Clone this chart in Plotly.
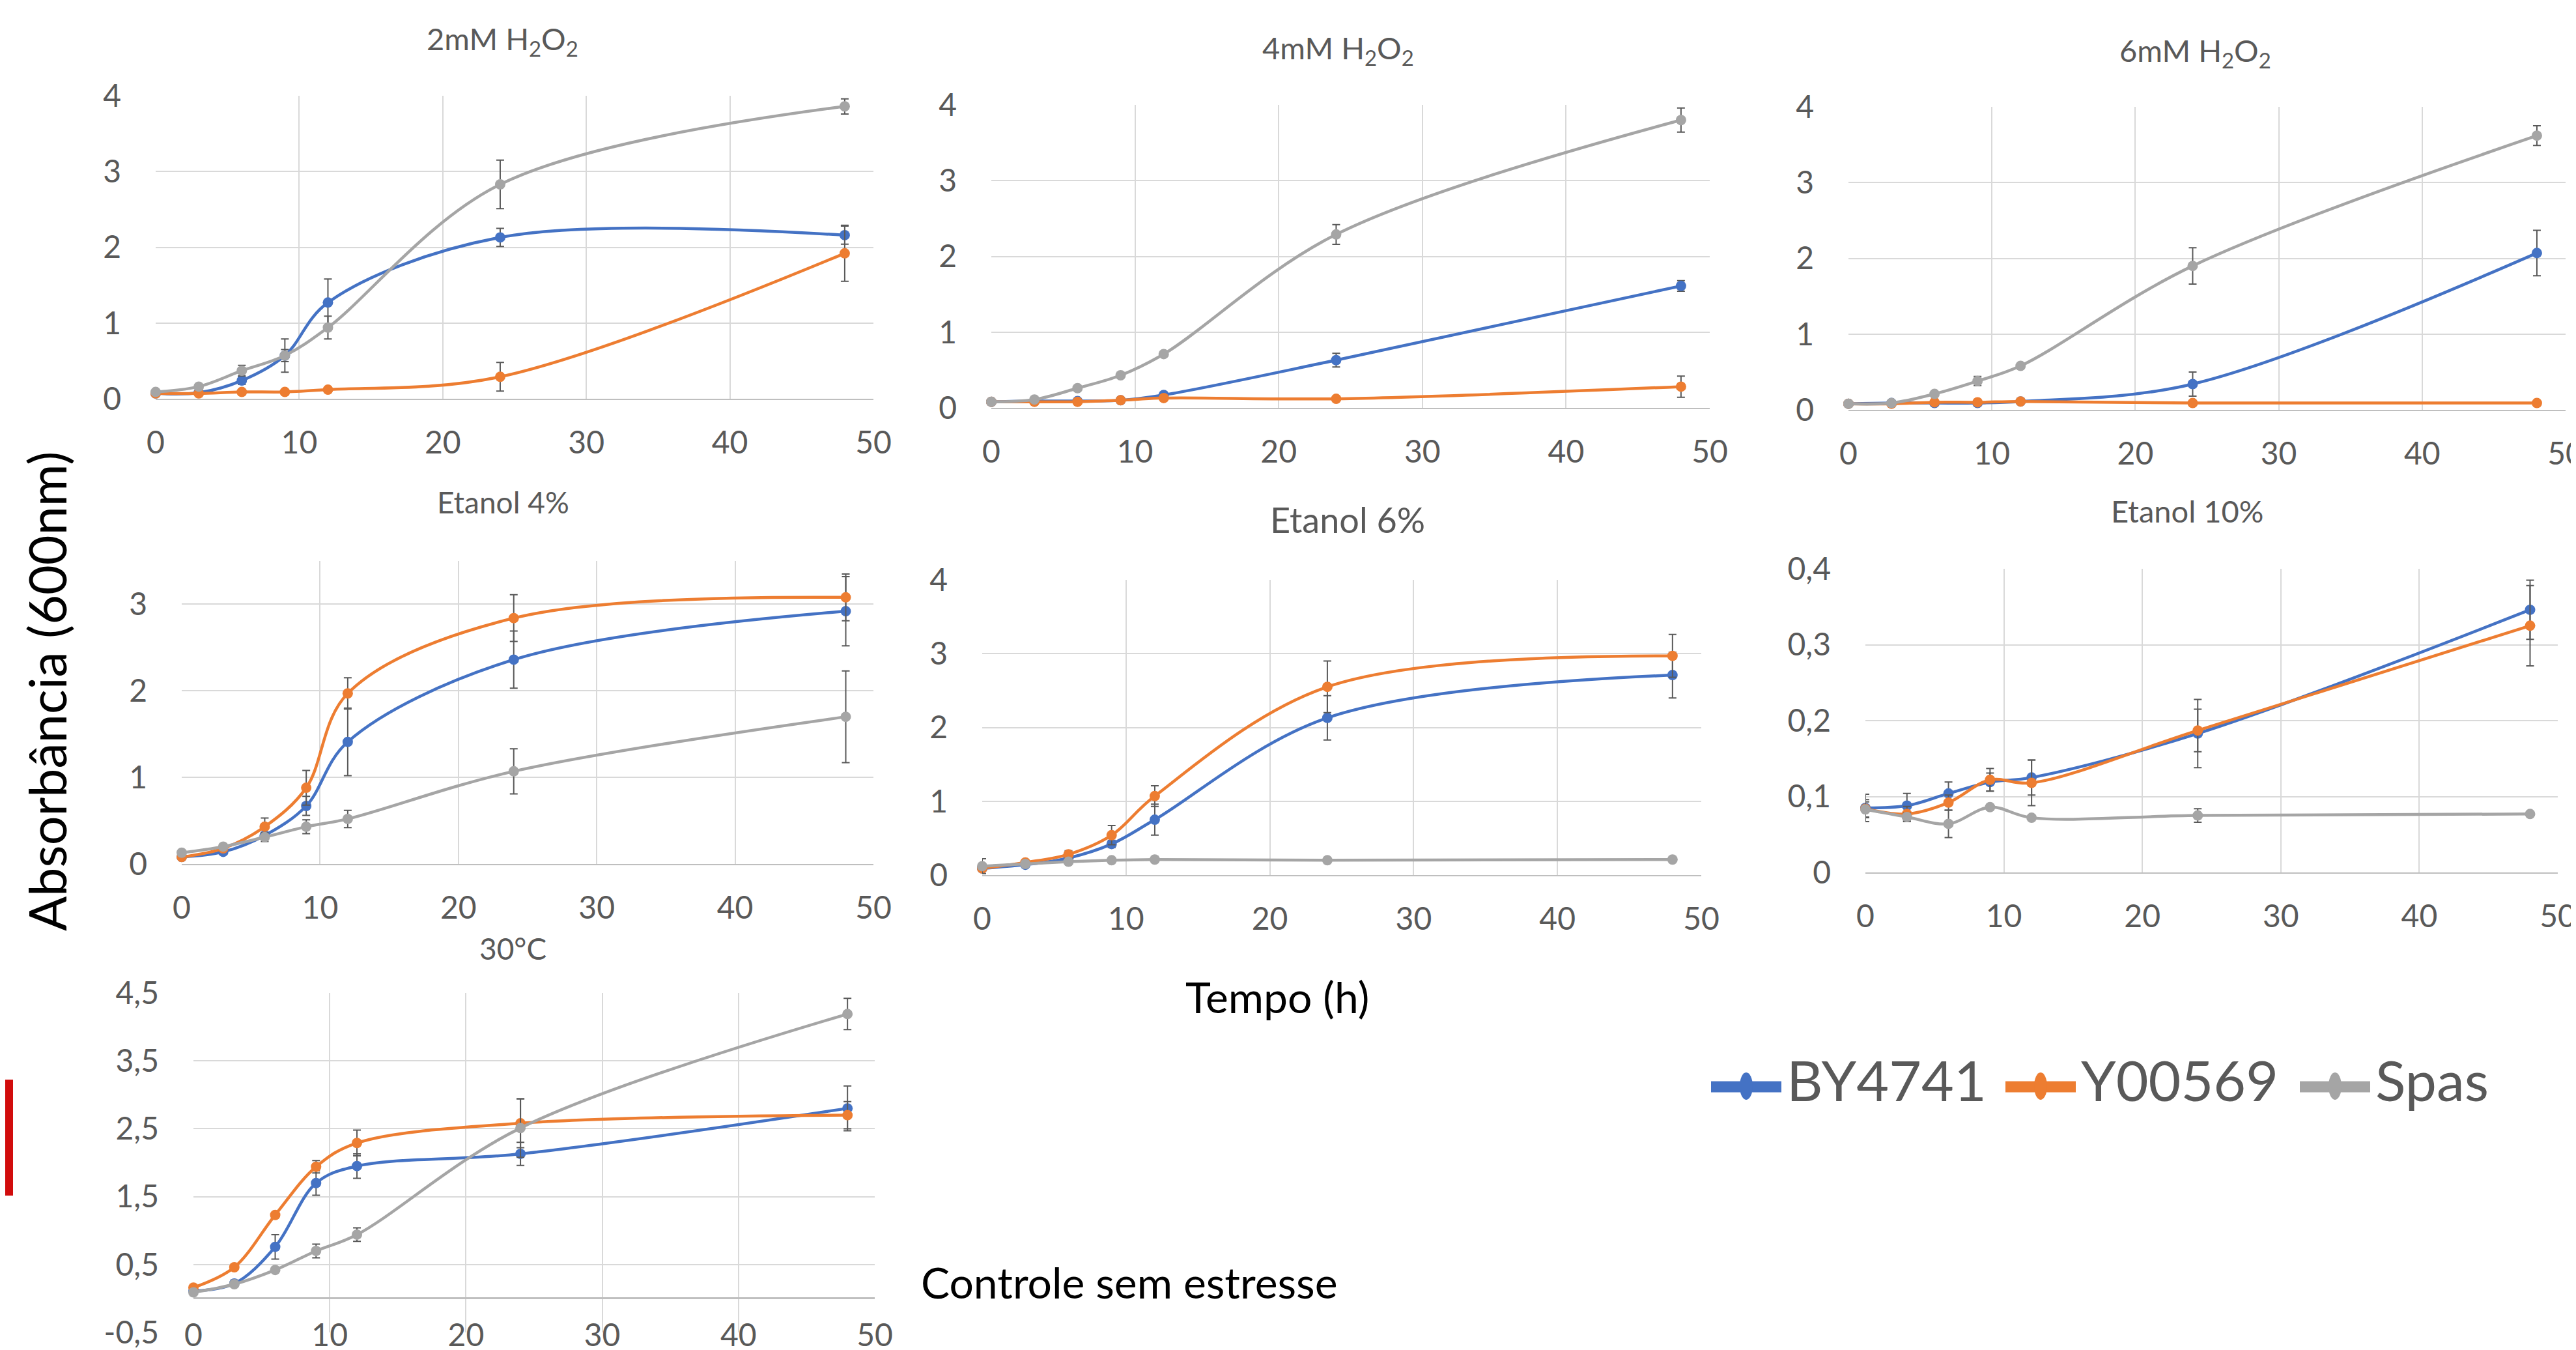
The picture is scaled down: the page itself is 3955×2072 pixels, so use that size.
import plotly.graph_objects as go

# ---------------- data ----------------
TIME_H = [0, 3, 6, 9, 12, 24, 48]
SERIES_NAMES = ["BY4741", "Y00569", "Spas"]
SERIES_COLORS = ["#4472C4", "#ED7D31", "#A5A5A5"]

PANEL_TITLES = ["2mM H<sub>2</sub>O<sub>2</sub>", "4mM H<sub>2</sub>O<sub>2</sub>", "6mM H<sub>2</sub>O<sub>2</sub>",
                "Etanol 4%", "Etanol 6%", "Etanol 10%", "30°C"]

# 2mM H2O2
h2o2_2_by = [0.07, 0.08, 0.24, 0.57, 1.27, 2.13, 2.16]
h2o2_2_by_err = [0.02, 0.02, 0.05, 0.08, 0.31, 0.12, 0.12]
h2o2_2_y0 = [0.07, 0.07, 0.09, 0.09, 0.12, 0.29, 1.92]
h2o2_2_y0_err = [0.01, 0.01, 0.01, 0.01, 0.02, 0.19, 0.37]
h2o2_2_sp = [0.09, 0.16, 0.37, 0.57, 0.94, 2.83, 3.86]
h2o2_2_sp_err = [0.02, 0.03, 0.07, 0.22, 0.15, 0.32, 0.10]

# 4mM H2O2
h2o2_4_by = [0.08, 0.09, 0.09, 0.10, 0.17, 0.63, 1.61]
h2o2_4_by_err = [0.01, 0.01, 0.01, 0.01, 0.02, 0.09, 0.07]
h2o2_4_y0 = [0.08, 0.08, 0.08, 0.10, 0.13, 0.12, 0.28]
h2o2_4_y0_err = [0.01, 0.01, 0.01, 0.01, 0.02, 0.02, 0.14]
h2o2_4_sp = [0.08, 0.11, 0.26, 0.43, 0.71, 2.29, 3.80]
h2o2_4_sp_err = [0.01, 0.01, 0.02, 0.02, 0.03, 0.13, 0.16]

# 6mM H2O2
h2o2_6_by = [0.08, 0.09, 0.09, 0.09, 0.11, 0.34, 2.07]
h2o2_6_by_err = [0.01, 0.01, 0.01, 0.01, 0.01, 0.16, 0.30]
h2o2_6_y0 = [0.08, 0.08, 0.10, 0.10, 0.11, 0.09, 0.09]
h2o2_6_y0_err = [0.01, 0.01, 0.01, 0.01, 0.01, 0.01, 0.01]
h2o2_6_sp = [0.08, 0.09, 0.21, 0.38, 0.58, 1.90, 3.62]
h2o2_6_sp_err = [0.01, 0.01, 0.02, 0.06, 0.03, 0.24, 0.13]

# Etanol 4%
et4_by = [0.08, 0.14, 0.33, 0.67, 1.41, 2.36, 2.92]
et4_by_err = [0.02, 0.02, 0.03, 0.11, 0.39, 0.33, 0.40]
et4_y0 = [0.08, 0.18, 0.43, 0.88, 1.97, 2.84, 3.08]
et4_y0_err = [0.02, 0.03, 0.10, 0.20, 0.18, 0.27, 0.27]
et4_sp = [0.13, 0.20, 0.31, 0.43, 0.52, 1.07, 1.70]
et4_sp_err = [0.02, 0.03, 0.05, 0.08, 0.10, 0.26, 0.53]

# Etanol 6%
et6_by = [0.09, 0.14, 0.23, 0.42, 0.75, 2.13, 2.71]
et6_by_err = [0.02, 0.02, 0.03, 0.05, 0.21, 0.30, 0.31]
et6_y0 = [0.09, 0.17, 0.28, 0.54, 1.07, 2.55, 2.97]
et6_y0_err = [0.02, 0.03, 0.05, 0.13, 0.14, 0.35, 0.29]
et6_sp = [0.12, 0.15, 0.18, 0.20, 0.21, 0.20, 0.21]
et6_sp_err = [0.10, 0.02, 0.02, 0.03, 0.04, 0.02, 0.03]

# Etanol 10%
et10_by = [0.085, 0.088, 0.104, 0.119, 0.125, 0.183, 0.346]
et10_by_err = [0.018, 0.016, 0.015, 0.012, 0.023, 0.045, 0.039]
et10_y0 = [0.084, 0.077, 0.092, 0.122, 0.118, 0.187, 0.325]
et10_y0_err = [0.012, 0.010, 0.010, 0.015, 0.030, 0.028, 0.053]
et10_sp = [0.083, 0.073, 0.064, 0.086, 0.072, 0.075, 0.077]
et10_sp_err = [0.010, 0.005, 0.018, 0.003, 0.003, 0.009, 0.002]

# 30 °C (controle sem estresse)
c30_by = [0.11, 0.22, 0.76, 1.70, 1.95, 2.13, 2.80]
c30_by_err = [0.02, 0.05, 0.18, 0.18, 0.18, 0.17, 0.33]
c30_y0 = [0.16, 0.46, 1.23, 1.94, 2.29, 2.58, 2.70]
c30_y0_err = [0.02, 0.03, 0.03, 0.09, 0.19, 0.36, 0.20]
c30_sp = [0.09, 0.21, 0.42, 0.70, 0.94, 2.51, 4.19]
c30_sp_err = [0.02, 0.03, 0.03, 0.10, 0.10, 0.43, 0.23]

X_TICKS = [0, 10, 20, 30, 40, 50]
Y_TICKS_0_4 = [0, 1, 2, 3, 4]
Y_TICKS_0_3 = [0, 1, 2, 3]
Y_TICKS_ET10 = [0, 0.1, 0.2, 0.3, 0.4]
Y_TICKTEXT_ET10 = ["0", "0,1", "0,2", "0,3", "0,4"]
Y_TICKS_30C = [-0.5, 0.5, 1.5, 2.5, 3.5, 4.5]
Y_TICKTEXT_30C = ["-0,5", "0,5", "1,5", "2,5", "3,5", "4,5"]

PANEL_DATA = [
    ([h2o2_2_by, h2o2_2_y0, h2o2_2_sp], [h2o2_2_by_err, h2o2_2_y0_err, h2o2_2_sp_err]),
    ([h2o2_4_by, h2o2_4_y0, h2o2_4_sp], [h2o2_4_by_err, h2o2_4_y0_err, h2o2_4_sp_err]),
    ([h2o2_6_by, h2o2_6_y0, h2o2_6_sp], [h2o2_6_by_err, h2o2_6_y0_err, h2o2_6_sp_err]),
    ([et4_by, et4_y0, et4_sp], [et4_by_err, et4_y0_err, et4_sp_err]),
    ([et6_by, et6_y0, et6_sp], [et6_by_err, et6_y0_err, et6_sp_err]),
    ([et10_by, et10_y0, et10_sp], [et10_by_err, et10_y0_err, et10_sp_err]),
    ([c30_by, c30_y0, c30_sp], [c30_by_err, c30_y0_err, c30_sp_err]),
]

# ---------------- layout (pixels) ----------------
W, H = 3955, 2072
FONT = "Lato, 'Open Sans', sans-serif"
GRAY_TXT = "#595959"

# plot areas: (left, right, top, bottom) in pixels
PANEL_BOX = [
    (231, 1333, 139, 604),
    (1514, 2617, 153, 618),
    (2830, 3931, 156, 621),
    (271, 1333, 853, 1318),
    (1500, 2604, 882, 1335),
    (2856, 3919, 865, 1331),
    (289, 1335, 1516, 2037),
]
Y_RANGES = [[0, 4], [0, 4], [0, 4], [0, 3.5], [0, 4], [0, 0.4], [-0.5, 4.5]]
Y_TICKVALS = [Y_TICKS_0_4, Y_TICKS_0_4, Y_TICKS_0_4, Y_TICKS_0_3, Y_TICKS_0_4, Y_TICKS_ET10, Y_TICKS_30C]
Y_TICKTEXT = [None, None, None, None, None, Y_TICKTEXT_ET10, Y_TICKTEXT_30C]
# title centres (x, y) px and font size
TITLE_POS = [(763, 54, 47), (2047, 68, 47), (3362, 72, 47), (764, 763, 46),
             (2061, 790, 54), (3350, 776, 47), (779, 1447, 46)]


def px_x(v):
    return v / W


def px_y(v):
    return 1 - v / H


fig = go.Figure()

for p, (vals, errs) in enumerate(PANEL_DATA):
    ax = "" if p == 0 else str(p + 1)
    for s in range(3):
        fig.add_trace(go.Scatter(
            x=TIME_H, y=vals[s], name=SERIES_NAMES[s],
            mode="lines+markers",
            line=dict(color=SERIES_COLORS[s], width=4.5, shape="spline", smoothing=1.0),
            marker=dict(color=SERIES_COLORS[s], size=16),
            error_y=dict(type="data", array=errs[s], visible=True, color=GRAY_TXT,
                         thickness=2, width=6),
            xaxis="x" + ax, yaxis="y" + ax, showlegend=False, cliponaxis=False,
        ))

    l, r, t, b = PANEL_BOX[p]
    last = p == 6
    xa = dict(domain=[px_x(l), px_x(r)], anchor="y" + ax, range=[0, 50], tickvals=X_TICKS,
              showgrid=True, gridcolor="#D9D9D9", gridwidth=2, zeroline=False,
              showline=not last, linecolor="#BFBFBF", linewidth=2, automargin=False,
              ticks="", ticklabelstandoff=(-28 if last else 24), ticklabeloverflow="allow",
              tickfont=dict(family=FONT, size=48, color=GRAY_TXT))
    ya = dict(domain=[px_y(b), px_y(t)], anchor="x" + ax, range=Y_RANGES[p],
              tickvals=Y_TICKVALS[p], showgrid=True, gridcolor="#D9D9D9", gridwidth=2,
              zeroline=last, zerolinecolor="#BFBFBF", zerolinewidth=3, automargin=False,
              showline=False, ticks="", ticklabelstandoff=52, ticklabeloverflow="allow",
              tickfont=dict(family=FONT, size=48, color=GRAY_TXT))
    if Y_TICKTEXT[p] is not None:
        ya["ticktext"] = Y_TICKTEXT[p]
    fig.update_layout(**{"xaxis" + ax: xa, "yaxis" + ax: ya})

annotations = []
for p, (cx, cy, fs) in enumerate(TITLE_POS):
    annotations.append(dict(text=PANEL_TITLES[p], x=px_x(cx), y=px_y(cy), xref="paper", yref="paper",
                            xanchor="center", yanchor="middle", showarrow=False,
                            font=dict(family=FONT, size=fs, color=GRAY_TXT)))

annotations.append(dict(text="Absorbância (600nm)", x=px_x(63), y=px_y(1053), xref="paper", yref="paper",
                        textangle=-90, xanchor="center", yanchor="middle", showarrow=False,
                        font=dict(family=FONT, size=79, color="black")))
annotations.append(dict(text="Tempo (h)", x=px_x(1953), y=px_y(1521), xref="paper", yref="paper",
                        xanchor="center", yanchor="middle", showarrow=False,
                        font=dict(family=FONT, size=66, color="black")))
annotations.append(dict(text="Controle sem estresse", x=px_x(1726), y=px_y(1959), xref="paper", yref="paper",
                        xanchor="center", yanchor="middle", showarrow=False,
                        font=dict(family=FONT, size=66, color="black")))

shapes = []
# manual legend
LEG_X0, LEG_STEP, LEG_Y = 2619, 452, 1660
for s in range(3):
    x0 = LEG_X0 + s * LEG_STEP
    shapes.append(dict(type="line", xref="paper", yref="paper", x0=px_x(x0), x1=px_x(x0 + 108),
                       y0=px_y(LEG_Y), y1=px_y(LEG_Y), line=dict(color=SERIES_COLORS[s], width=17)))
    shapes.append(dict(type="circle", xref="paper", yref="paper", x0=px_x(x0 + 44), x1=px_x(x0 + 64),
                       y0=px_y(LEG_Y - 22), y1=px_y(LEG_Y + 20), fillcolor=SERIES_COLORS[s], line=dict(width=0)))
    annotations.append(dict(text=SERIES_NAMES[s], x=px_x(x0 + 114), y=px_y(LEG_Y - 12), xref="paper", yref="paper",
                            xanchor="left", yanchor="middle", showarrow=False,
                            font=dict(family=FONT, size=86, color=GRAY_TXT)))
# red mark at left edge
shapes.append(dict(type="rect", xref="paper", yref="paper", x0=0, x1=px_x(12), y0=px_y(1827), y1=px_y(1649),
                   fillcolor="#D10C0C", line=dict(width=0)))

fig.update_layout(width=W, height=H, margin=dict(l=0, r=0, t=0, b=0, autoexpand=False),
                  plot_bgcolor="white", paper_bgcolor="white",
                  annotations=annotations, shapes=shapes, showlegend=False)

fig.write_html("out.html")
